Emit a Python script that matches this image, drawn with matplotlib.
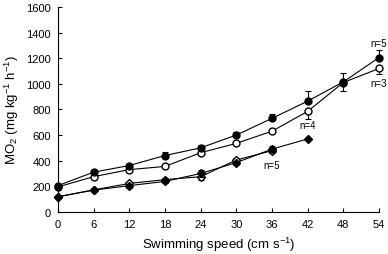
import matplotlib
matplotlib.use("Agg")
import matplotlib.pyplot as plt
import numpy as np

plt.rcParams['font.family'] = ['Liberation Sans', 'DejaVu Sans']
plt.rcParams['mathtext.fontset'] = 'custom'
plt.rcParams['mathtext.rm'] = 'Liberation Sans'
plt.rcParams['mathtext.it'] = 'Liberation Sans:italic'
plt.rcParams['mathtext.bf'] = 'Liberation Sans:bold'

speed_long = [0, 6, 12, 18, 24, 30, 36, 42, 48, 54]
filled_circle = [205, 310, 362, 440, 500, 600, 730, 865, 1015, 1205]
filled_circle_err = [0, 15, 15, 30, 20, 20, 35, 75, 70, 55]
open_circle = [195, 275, 330, 355, 462, 535, 630, 785, 1010, 1120]
open_circle_err = [0, 15, 15, 15, 15, 15, 15, 60, 65, 45]

speed_fd = [0, 6, 12, 18, 24, 30, 36, 42]
filled_diamond = [118, 170, 205, 238, 300, 385, 490, 570]
filled_diamond_err = [0, 10, 15, 15, 30, 15, 25, 0]
speed_od = [0, 6, 12, 18, 24, 30, 36]
open_diamond = [118, 172, 222, 252, 275, 405, 478]
open_diamond_err = [0, 10, 15, 15, 25, 15, 20]

n_labels = ["n=5", "n=3", "n=4", "n=5"]
n_pos = [(54, 1315), (54, 1010), (42, 680), (36, 370)]

fig = plt.figure(figsize=(3.88, 2.55), dpi=100)
ax = fig.add_axes([0.149, 0.165, 0.828, 0.804])

kw = dict(color='black', lw=0.8, capsize=2, elinewidth=0.8, capthick=0.8, clip_on=False)
ax.errorbar(speed_long, filled_circle, yerr=[np.zeros(10), filled_circle_err],
            marker='o', ms=5, mfc='black', mec='black', zorder=4, **kw)
ax.errorbar(speed_long, open_circle, yerr=[open_circle_err, np.zeros(10)],
            marker='o', ms=5, mfc='white', mec='black', zorder=3, **kw)
ax.errorbar(speed_od, open_diamond, yerr=open_diamond_err,
            marker='D', ms=4, mfc='white', mec='black', zorder=3, **kw)
ax.errorbar(speed_fd, filled_diamond, yerr=filled_diamond_err,
            marker='D', ms=4, mfc='black', mec='black', zorder=4, **kw)

for lab, (x, y) in zip(n_labels, n_pos):
    ax.text(x, y, lab, ha='center', va='center', fontsize=7)

ax.set_xlim(0, 54)
ax.set_ylim(0, 1600)
ax.set_xticks(np.arange(0, 55, 6))
ax.set_yticks(np.arange(0, 1601, 200))
ax.spines['top'].set_visible(False)
ax.spines['right'].set_visible(False)
ax.tick_params(direction='in', length=3, width=0.8, labelsize=8, pad=5)
ax.set_xlabel('Swimming speed (cm s$^{-1}$)', fontsize=9.5)
ax.set_ylabel('MO$_2$ (mg kg$^{-1}$ h$^{-1}$)', fontsize=9.5)

fig.savefig('out.png', dpi=100)
